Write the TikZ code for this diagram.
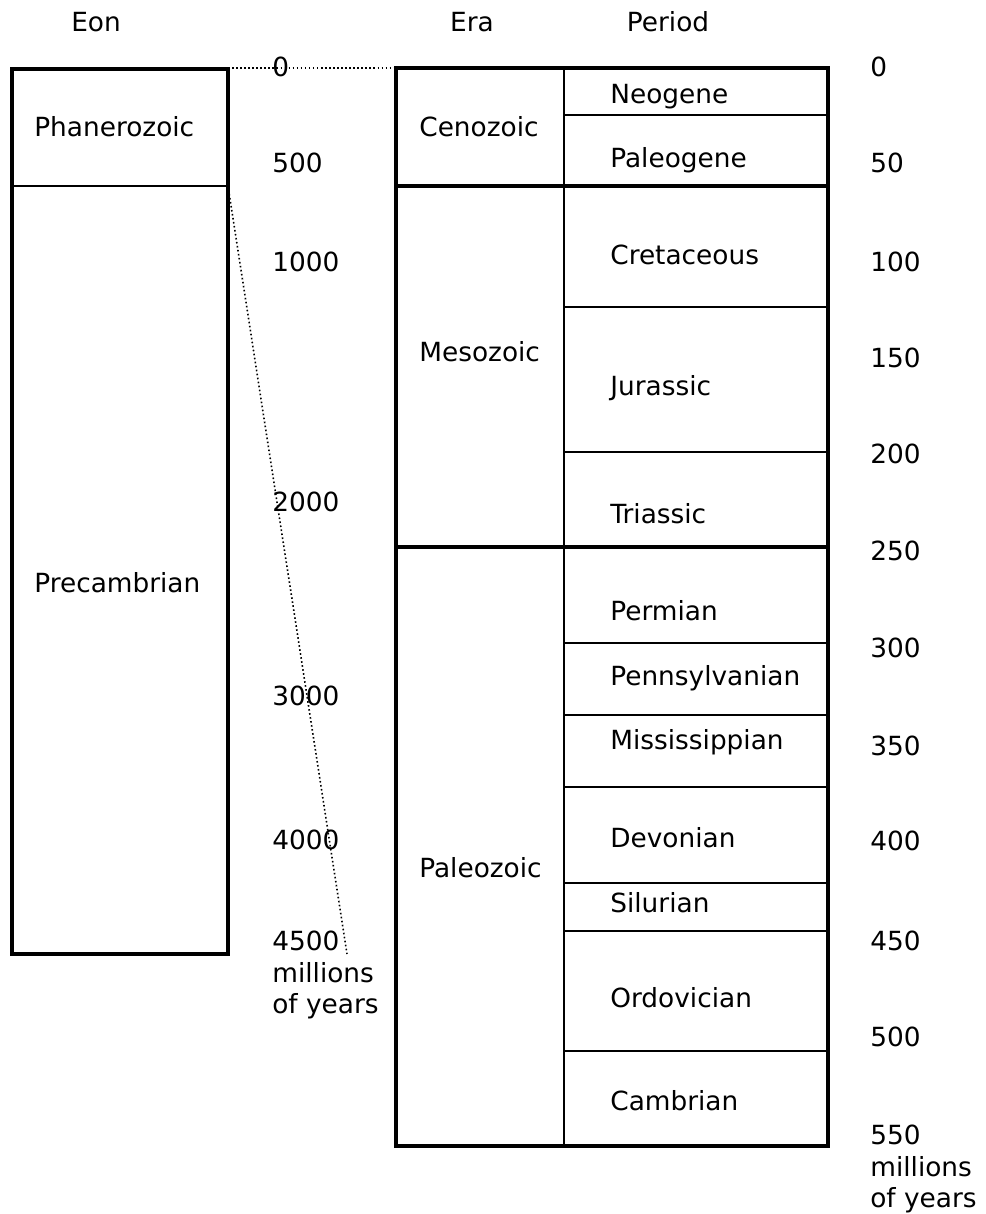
\documentclass[tikz,border=0pt]{standalone}
\usepackage{fontspec}
\setmainfont{DejaVu Sans}
\usepackage{tikz}

\begin{document}
\begin{tikzpicture}[x=0.02cm,y=-0.02cm,
  txt/.style={inner sep=0,font=\fontsize{15}{17.8}\selectfont},
  lbl/.style={txt,text height=0.73em,text depth=0pt,yshift=-1.5pt},
  thk/.style={line width=2pt},
  thn/.style={line width=0.9pt},
  dots/.style={line width=0.9pt,dash pattern=on 0.9pt off 1.4pt}]
\path[use as bounding box] (0,0) rectangle (985,1214);
% headings
\node[lbl] (eon) at (96,22) {Eon};
\node[lbl] (era) at (472,22) {Era};
\node[lbl] (per) at (668,22) {Period};
% eon column
\draw[thk] (12,69) rectangle (228,954);
\draw[thn] (12,186)--(228,186);
\node[lbl,anchor=west] (phan) at (34,127) {Phanerozoic};
\node[lbl,anchor=west] (prec) at (34,583) {Precambrian};
\coordinate (pt) at (228,68);
\coordinate (pb) at (228,186);
% era and period column
\draw[thk] (396,68) rectangle (828,1146);
\draw[thn] (564,68)--(564,1146);
\foreach \y in {186,547}
  \draw[thk] (396,\y)--(828,\y);
\foreach \y in {115,307,452,643,715,787,883,931,1051}
  \draw[thn] (564,\y)--(828,\y);
\coordinate (et) at (396,68);
\coordinate (ee) at (347,954);
\foreach \t/\y in {Cenozoic/127,Mesozoic/352,Paleozoic/868}
  \node[lbl,anchor=west] (\t) at (419,\y) {\t};
\foreach \t/\y in {Neogene/94,Paleogene/158,Cretaceous/255,Jurassic/386,
  Triassic/514,Permian/611,Pennsylvanian/676,Mississippian/740,
  Devonian/838,Silurian/903,Ordovician/998,Cambrian/1101}
  \node[lbl,anchor=west] (\t) at (610,\y) {\t};
% left scale
\foreach \v/\y in {0/67,500/163,1000/262,2000/502,3000/696,4000/840}
  \node[lbl,anchor=west] (l\v) at (272,\y) {\v};
\node[txt,anchor=north west,align=left] (l4500) at (272,931) {4500\\millions\\of years};
% right scale
\foreach \v/\y in {0/67,50/163,100/262,150/358,200/454,250/551,300/648,
  350/746,400/841,450/941,500/1037}
  \node[lbl,anchor=west] (r\v) at (870,\y) {\v};
\node[txt,anchor=north west,align=left] (r550) at (870,1125) {550\\millions\\of years};
% zoom lines
\draw[dots] (pt)--(et);
\draw[dots] (pb)--(ee);
\end{tikzpicture}
\end{document}
